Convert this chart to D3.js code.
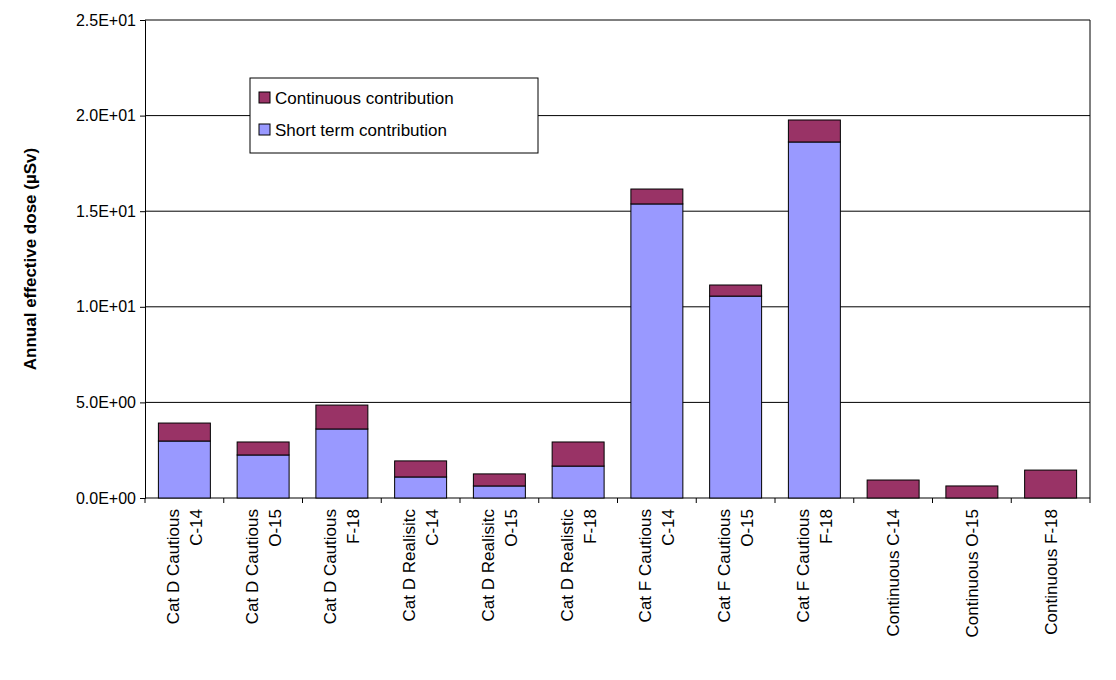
<!DOCTYPE html>
<html><head><meta charset="utf-8">
<script src="https://cdn.jsdelivr.net/npm/d3@7"></script>
<style>body{margin:0;background:#fff}text{font-family:Arial,"Liberation Sans",sans-serif}</style>
</head><body><svg id="c" width="1116" height="680"></svg>
<script>
var categories = [
    ["Cat D Cautious", "C-14"], ["Cat D Cautious", "O-15"], ["Cat D Cautious", "F-18"],
    ["Cat D Realisitc", "C-14"], ["Cat D Realisitc", "O-15"], ["Cat D Realistic", "F-18"],
    ["Cat F Cautious", "C-14"], ["Cat F Cautious", "O-15"], ["Cat F Cautious", "F-18"],
    ["Continuous C-14"], ["Continuous O-15"], ["Continuous F-18"]
]
var shortTerm = [2.98, 2.25, 3.61, 1.1, 0.63, 1.67, 15.38, 10.56, 18.62, 0, 0, 0]
var continuous = [0.94, 0.68, 1.25, 0.84, 0.63, 1.26, 0.78, 0.58, 1.15, 0.94, 0.63, 1.46]
var yTicks = [0, 5, 10, 15, 20, 25]

function sci(d) {
    if (d === 0) return "0.0E+00"
    var e = Math.floor(Math.log10(d))
    return (d / Math.pow(10, e)).toFixed(1) + "E+" + (e < 10 ? "0" : "") + e
}

var svg = d3.select("#c")
var mLeft = 145, mRight = 1090, mTop = 20, mBottom = 498

var x = d3.scaleBand().domain(d3.range(categories.length)).range([mLeft, mRight]).paddingInner(0.34).paddingOuter(0.17)
var y = d3.scaleLinear().domain([0, 25]).range([mBottom, mTop])

svg.append("g").selectAll("line").data(yTicks.slice(1)).enter().append("line")
    .attr("x1", mLeft).attr("x2", mRight).attr("y1", d => y(d)).attr("y2", d => y(d))
    .attr("stroke", "#000").attr("stroke-width", 1)

svg.append("g").attr("transform", "translate(" + mLeft + ",0)")
    .call(d3.axisLeft(y).tickValues(yTicks).tickSize(5).tickPadding(4).tickFormat(sci))
    .attr("font-size", 16).attr("font-family", null)
    .call(g => g.selectAll("text").attr("fill", "#000"))
svg.append("line").attr("x1", mLeft).attr("x2", mRight).attr("y1", mBottom).attr("y2", mBottom).attr("stroke", "#000")
svg.append("line").attr("x1", mRight).attr("x2", mRight).attr("y1", mTop).attr("y2", mBottom).attr("stroke", "#000")
svg.append("g").selectAll("line").data(d3.range(categories.length + 1)).enter().append("line")
    .attr("x1", d => mLeft + d * (mRight - mLeft) / categories.length).attr("x2", d => mLeft + d * (mRight - mLeft) / categories.length)
    .attr("y1", mBottom).attr("y2", mBottom + 5).attr("stroke", "#000")

var bars = svg.append("g").selectAll("g").data(categories).enter().append("g")
bars.append("rect").attr("x", (d, i) => x(i)).attr("width", x.bandwidth())
    .attr("y", (d, i) => y(shortTerm[i])).attr("height", (d, i) => y(0) - y(shortTerm[i]))
    .attr("fill", "#9999ff").attr("stroke", "#000")
bars.append("rect").attr("x", (d, i) => x(i)).attr("width", x.bandwidth())
    .attr("y", (d, i) => y(shortTerm[i] + continuous[i])).attr("height", (d, i) => y(shortTerm[i]) - y(shortTerm[i] + continuous[i]))
    .attr("fill", "#993366").attr("stroke", "#000")

bars.each(function(d, i) {
    var cx = x(i) + x.bandwidth() / 2
    var t = d3.select(this).append("text").attr("transform", "translate(" + cx + "," + (mBottom + 11) + ") rotate(-90)")
        .attr("text-anchor", "end").style("font-size", "17px")
    d.forEach(function(line, k) {
        t.append("tspan").attr("x", 0).attr("y", (k - (d.length - 1) / 2) * 23 + 6).text(line)
    })
})

svg.append("text").attr("transform", "translate(36," + (mTop + mBottom) / 2 + ") rotate(-90)")
    .attr("text-anchor", "middle").style("font-size", "17px").style("font-weight", "bold").text("Annual effective dose (µSv)")

var lg = svg.append("g").attr("transform", "translate(250,78)")
lg.append("rect").attr("width", 288).attr("height", 75).attr("fill", "#fff").attr("stroke", "#000")
var items = [["Continuous contribution", "#993366"], ["Short term contribution", "#9999ff"]]
items.forEach(function(it, k) {
    lg.append("rect").attr("x", 9).attr("y", 14 + k * 32).attr("width", 11).attr("height", 11).attr("fill", it[1]).attr("stroke", "#000")
    lg.append("text").attr("x", 25).attr("y", 26 + k * 32).style("font-size", "17px").text(it[0])
})
</script></body></html>
